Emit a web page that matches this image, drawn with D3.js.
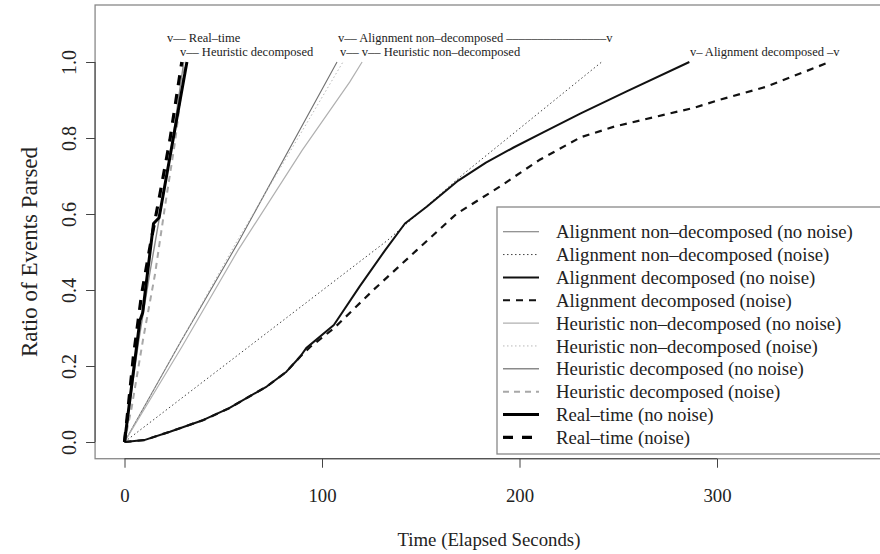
<!DOCTYPE html>
<html>
<head>
<meta charset="utf-8">
<script src="https://cdn.jsdelivr.net/npm/d3@7"></script>
<style>
  body { margin: 0; background: #fff; }
  text { font-family: "Liberation Serif", "DejaVu Serif", serif; fill: #222; }
</style>
</head>
<body>
<div id="chart"></div>
<script>
// series values: [seconds, ratio parsed]
var alignNonDecNoNoise = [[0, 0], [28, 0.26], [57, 0.52], [107.6, 1.0]];
var alignNonDecNoise = [[0, 0], [133, 0.53], [172, 0.707], [241.6, 1.0]];
var alignDecNoNoise = [[0, 0], [10, 0.005], [23, 0.027], [40, 0.058], [53, 0.089], [72, 0.146],
  [82, 0.185], [89, 0.225], [92, 0.247], [106, 0.308], [119, 0.409], [132, 0.505], [142, 0.575],
  [153, 0.619], [169, 0.688], [183, 0.735], [197, 0.775], [212, 0.815], [231, 0.865], [254, 0.922], [286, 1.0]];
var alignDecNoise = [[0, 0], [10, 0.005], [23, 0.027], [40, 0.058], [53, 0.089], [72, 0.146],
  [82, 0.185], [89, 0.225], [94, 0.25], [106, 0.299], [126, 0.4], [148, 0.505], [168, 0.6],
  [190, 0.672], [210, 0.742], [231, 0.802], [248, 0.83], [273, 0.861], [288, 0.879],
  [301, 0.9], [325, 0.935], [357, 1.0]];
var heurNonDecNoNoise = [[0, 0], [29, 0.25], [57.5, 0.505], [90, 0.768], [114, 0.947], [120.3, 1.0]];
var heurNonDecNoise = [[0, 0], [56, 0.52], [110.6, 1.0]];
var heurDecNoNoise = [[0, 0], [7, 0.26], [13, 0.45], [19, 0.63], [24.5, 0.8], [30, 1.0]];
var heurDecNoise = [[0, 0], [3.6, 0.09], [9.4, 0.27], [15.4, 0.44], [20.5, 0.62], [25.6, 0.79], [30.6, 1.0]];
var realTimeNoNoise = [[0, 0], [7.8, 0.32], [9.2, 0.34], [14.7, 0.575], [17.5, 0.59], [31.6, 1.0]];
var realTimeNoise = [[0, 0], [1.9, 0.093], [4.5, 0.225], [8.7, 0.39], [12.9, 0.514], [18, 0.654], [23, 0.795], [29, 1.0]];

var legendLabels = [
  "Alignment non\u2013decomposed (no noise)",
  "Alignment non\u2013decomposed (noise)",
  "Alignment decomposed (no noise)",
  "Alignment decomposed (noise)",
  "Heuristic non\u2013decomposed (no noise)",
  "Heuristic non\u2013decomposed (noise)",
  "Heuristic decomposed (no noise)",
  "Heuristic decomposed (noise)",
  "Real\u2013time (no noise)",
  "Real\u2013time (noise)"
];

var xTicks = [0, 100, 200, 300];
var yTicks = [0, 0.2, 0.4, 0.6, 0.8, 1.0];

// text notes placed at data coordinates [seconds, ratio, text]
var notes = [
  [21.5, 1.063, "v\u2013\u2013 Real\u2013time"],
  [28.1, 1.026, "v\u2013\u2013 Heuristic decomposed"],
  [108.1, 1.063, "v\u2013\u2013 Alignment non\u2013decomposed \u2013\u2013\u2013\u2013\u2013\u2013\u2013\u2013\u2013\u2013\u2013\u2013\u2013\u2013\u2013\u2013v"],
  [109.1, 1.026, "v\u2013\u2013 v\u2013\u2013 Heuristic non\u2013decomposed"],
  [286.3, 1.026, "v\u2013 Alignment decomposed \u2013v"]
];

// line styles, in legend order
var styles = [
  { color: "#707070", width: 1.1, dash: null },
  { color: "#444", width: 1, dash: "1.5,2.5" },
  { color: "#111", width: 2, dash: null },
  { color: "#111", width: 2.2, dash: "7,6" },
  { color: "#b0b0b0", width: 1.2, dash: null },
  { color: "#b8b8b8", width: 1, dash: "1.5,2.5" },
  { color: "#8a8a8a", width: 1.4, dash: null },
  { color: "#a8a8a8", width: 2, dash: "6,5" },
  { color: "#000", width: 3, dash: null },
  { color: "#000", width: 3.2, dash: "10,9" }
];

var series = [alignNonDecNoNoise, alignNonDecNoise, alignDecNoNoise, alignDecNoise,
  heurNonDecNoNoise, heurNonDecNoise, heurDecNoNoise, heurDecNoise,
  realTimeNoNoise, realTimeNoise];

var svgWidth = 880;
var svgHeight = 554;

var svg = d3.select("#chart")
  .append("svg")
  .attr("width", svgWidth)
  .attr("height", svgHeight);

// scales
var xScale = d3.scaleLinear().domain([0, 300]).range([124.5, 717]);
var yScale = d3.scaleLinear().domain([0, 1]).range([442, 62]);

var boxLeft = xScale(-14.9), boxRight = xScale(387);
var boxTop = yScale(1.15), boxBottom = yScale(-0.044);

// plot frame
svg.append("rect")
  .attr("x", boxLeft)
  .attr("y", boxTop)
  .attr("width", boxRight - boxLeft)
  .attr("height", boxBottom - boxTop)
  .attr("fill", "none")
  .attr("stroke", "#888")
  .attr("stroke-width", 1.3);

// x axis
var bottomAxis = d3.axisBottom(xScale)
  .tickValues(xTicks)
  .tickSize(9)
  .tickPadding(21)
  .tickFormat(d3.format("d"));

var xAxis = svg.append("g")
  .attr("transform", `translate(0, ${boxBottom})`)
  .call(bottomAxis);
xAxis.select(".domain").attr("stroke", "#444").attr("d", `M${xScale(0)},0H${xScale(300)}`);
xAxis.selectAll(".tick line").attr("stroke", "#444");
xAxis.selectAll("text")
  .style("font-family", "Liberation Serif")
  .style("font-size", "18.8px")
  .attr("fill", "#222");

// y axis
var leftAxis = d3.axisLeft(yScale)
  .tickValues(yTicks)
  .tickSize(9)
  .tickFormat(d3.format(".1f"));

var yAxis = svg.append("g")
  .attr("transform", `translate(${boxLeft}, 0)`)
  .call(leftAxis);
yAxis.select(".domain").attr("stroke", "#444").attr("d", `M0,${yScale(0)}V${yScale(1)}`);
yAxis.selectAll(".tick line").attr("stroke", "#444");
yAxis.selectAll("text")
  .attr("x", 0)
  .attr("dy", 0)
  .attr("transform", "translate(-19, 0) rotate(-90)")
  .attr("text-anchor", "middle")
  .style("font-family", "Liberation Serif")
  .style("font-size", "20px")
  .attr("fill", "#222");

// axis titles
svg.append("text")
  .attr("x", (boxLeft + boxRight) / 2 - 3)
  .attr("y", 546)
  .attr("text-anchor", "middle")
  .style("font-size", "18.8px")
  .text("Time (Elapsed Seconds)");

svg.append("text")
  .attr("transform", `translate(37, ${yScale(0.5)}) rotate(-90)`)
  .attr("text-anchor", "middle")
  .style("font-size", "23px")
  .text("Ratio of Events Parsed");

// series lines
var line = d3.line()
  .x(d => xScale(d[0]))
  .y(d => yScale(d[1]));

series.forEach(function(data, i) {
  svg.append("path")
    .datum(data)
    .attr("d", line)
    .attr("fill", "none")
    .attr("stroke", styles[i].color)
    .attr("stroke-width", styles[i].width)
    .attr("stroke-dasharray", styles[i].dash)
    .attr("stroke-linejoin", "round");
});

// text notes
svg.selectAll(".note")
  .data(notes)
  .enter()
  .append("text")
  .attr("class", "note")
  .attr("x", d => xScale(d[0]))
  .attr("y", d => yScale(d[1]))
  .attr("dy", "0.35em")
  .style("font-size", "12.5px")
  .text(d => d[2]);

// legend
var legend = svg.append("g").attr("transform", "translate(497, 207)");
legend.append("rect")
  .attr("width", 420)
  .attr("height", 247)
  .attr("fill", "#fff")
  .attr("stroke", "#888")
  .attr("stroke-width", 1.3);

var rows = legend.selectAll(".row")
  .data(legendLabels)
  .enter()
  .append("g")
  .attr("transform", (d, i) => `translate(0, ${24.7 + i * 22.85})`);

rows.append("line")
  .attr("x1", 6)
  .attr("x2", 42)
  .attr("stroke", (d, i) => styles[i].color)
  .attr("stroke-width", (d, i) => styles[i].width)
  .attr("stroke-dasharray", (d, i) => styles[i].dash);

rows.append("text")
  .attr("x", 59)
  .attr("dy", "0.35em")
  .style("font-size", "18.8px")
  .text(d => d);
</script>
</body>
</html>
